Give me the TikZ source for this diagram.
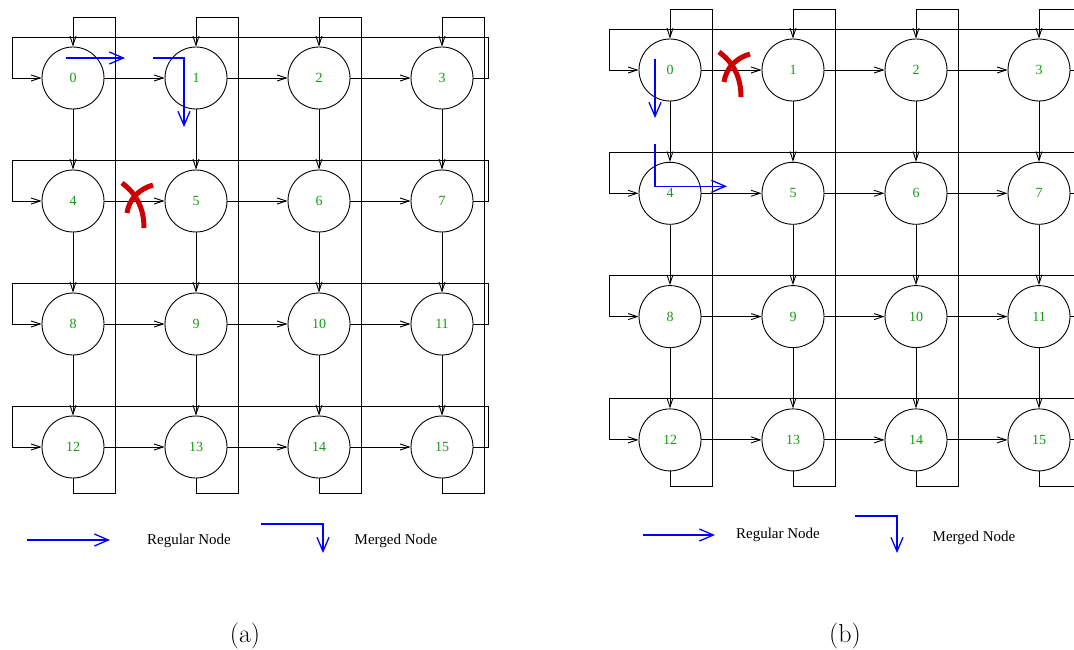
\documentclass[tikz,border=0pt]{standalone}
\usepackage{fontspec}
\newfontfamily\figfont{Liberation Serif}
\usetikzlibrary{arrows.meta,calc}
\definecolor{numgreen}{RGB}{20,155,20}
\definecolor{faultred}{RGB}{204,0,0}

\begin{document}
\begin{tikzpicture}[x=1pt,y=-1pt,
    router/.style={circle, draw=black, line width=0.9pt, minimum size=62pt, inner sep=0pt, text=numgreen, font=\figfont\fontsize{14}{14}\selectfont},
    link/.style={line width=0.9pt, -{Straight Barb[length=9pt,width=6pt]}},
    route/.style={blue, line width=1.3pt, -{Straight Barb[length=14pt,width=12pt]}},
    fault/.style={faultred, line width=5pt},
    legend/.style={font=\figfont\fontsize{15}{15}\selectfont},
    caption/.style={font=\fontsize{26}{30}\selectfont}
]
\useasboundingbox (0,0) rectangle (1074,650);

% the two 4x4 tori
\foreach \p/\ox/\oy/\dy in {a/73/78/123, b/670/70/123.3}{
  \foreach \r in {0,...,3}
    \foreach \c in {0,...,3}{
      \pgfmathtruncatemacro{\n}{4*\r+\c}
      \node[router] (\p\n) at (\ox+123*\c, \oy+\dy*\r) {\n};
    }
  % row links and row wrap-around
  \foreach \r in {0,...,3}{
    \pgfmathtruncatemacro{\first}{4*\r}
    \pgfmathtruncatemacro{\last}{4*\r+3}
    \foreach \c in {0,1,2}{
      \pgfmathtruncatemacro{\s}{4*\r+\c}
      \pgfmathtruncatemacro{\t}{\s+1}
      \draw[link] (\p\s) -- (\p\t);
    }
    \draw[link] (\p\last.east) -- ++(15,0) |- ($(\p\first)+(-61,-41)$) |- (\p\first.west);
  }
  % column links and column wrap-around
  \foreach \c in {0,...,3}{
    \pgfmathtruncatemacro{\bot}{12+\c}
    \foreach \r in {0,1,2}{
      \pgfmathtruncatemacro{\s}{4*\r+\c}
      \pgfmathtruncatemacro{\t}{\s+4}
      \draw[link] (\p\s) -- (\p\t);
    }
    \draw[link] (\p\bot.south) -- ++(0,15) -| ($(\p\c)+(42,-61)$) -| (\p\c.north);
  }
}

% faulty links
\foreach \m in {a4, b0}{
  \draw[fault] ($(\m)+(49,-18)$) .. controls ($(\m)+(64,-7)$) and ($(\m)+(71,8)$) .. ($(\m)+(71,27)$);
  \draw[fault] ($(\m)+(80,-16)$) .. controls ($(\m)+(66,-12)$) and ($(\m)+(56,-2)$) .. ($(\m)+(54,12)$);
}

% routes
\draw[route] ($(a0)+(-7,-20)$) -- ++(59,0);
\draw[route] ($(a1)+(-43,-20)$) -| ++(31,69);
\draw[route] ($(b0)+(-15,-11)$) -- ++(0,59);
\draw[route] ($(b4)+(-15,-49)$) |- ++(72,42);

% legends
\draw[route] (27,540) -- (110,540);
\node[legend] (rega) at (189,541) {Regular Node};
\draw[route] (261,524) -| (323,553);
\node[legend] (mrga) at (396,541) {Merged Node};
\draw[route] (643,535) -- (715,535);
\node[legend] (regb) at (778,535) {Regular Node};
\draw[route] (855,516) -| (897,553);
\node[legend] (mrgb) at (974,538) {Merged Node};

\node[caption] (capa) at (245,636) {(a)};
\node[caption] (capb) at (845,636) {(b)};
\end{tikzpicture}
\end{document}
